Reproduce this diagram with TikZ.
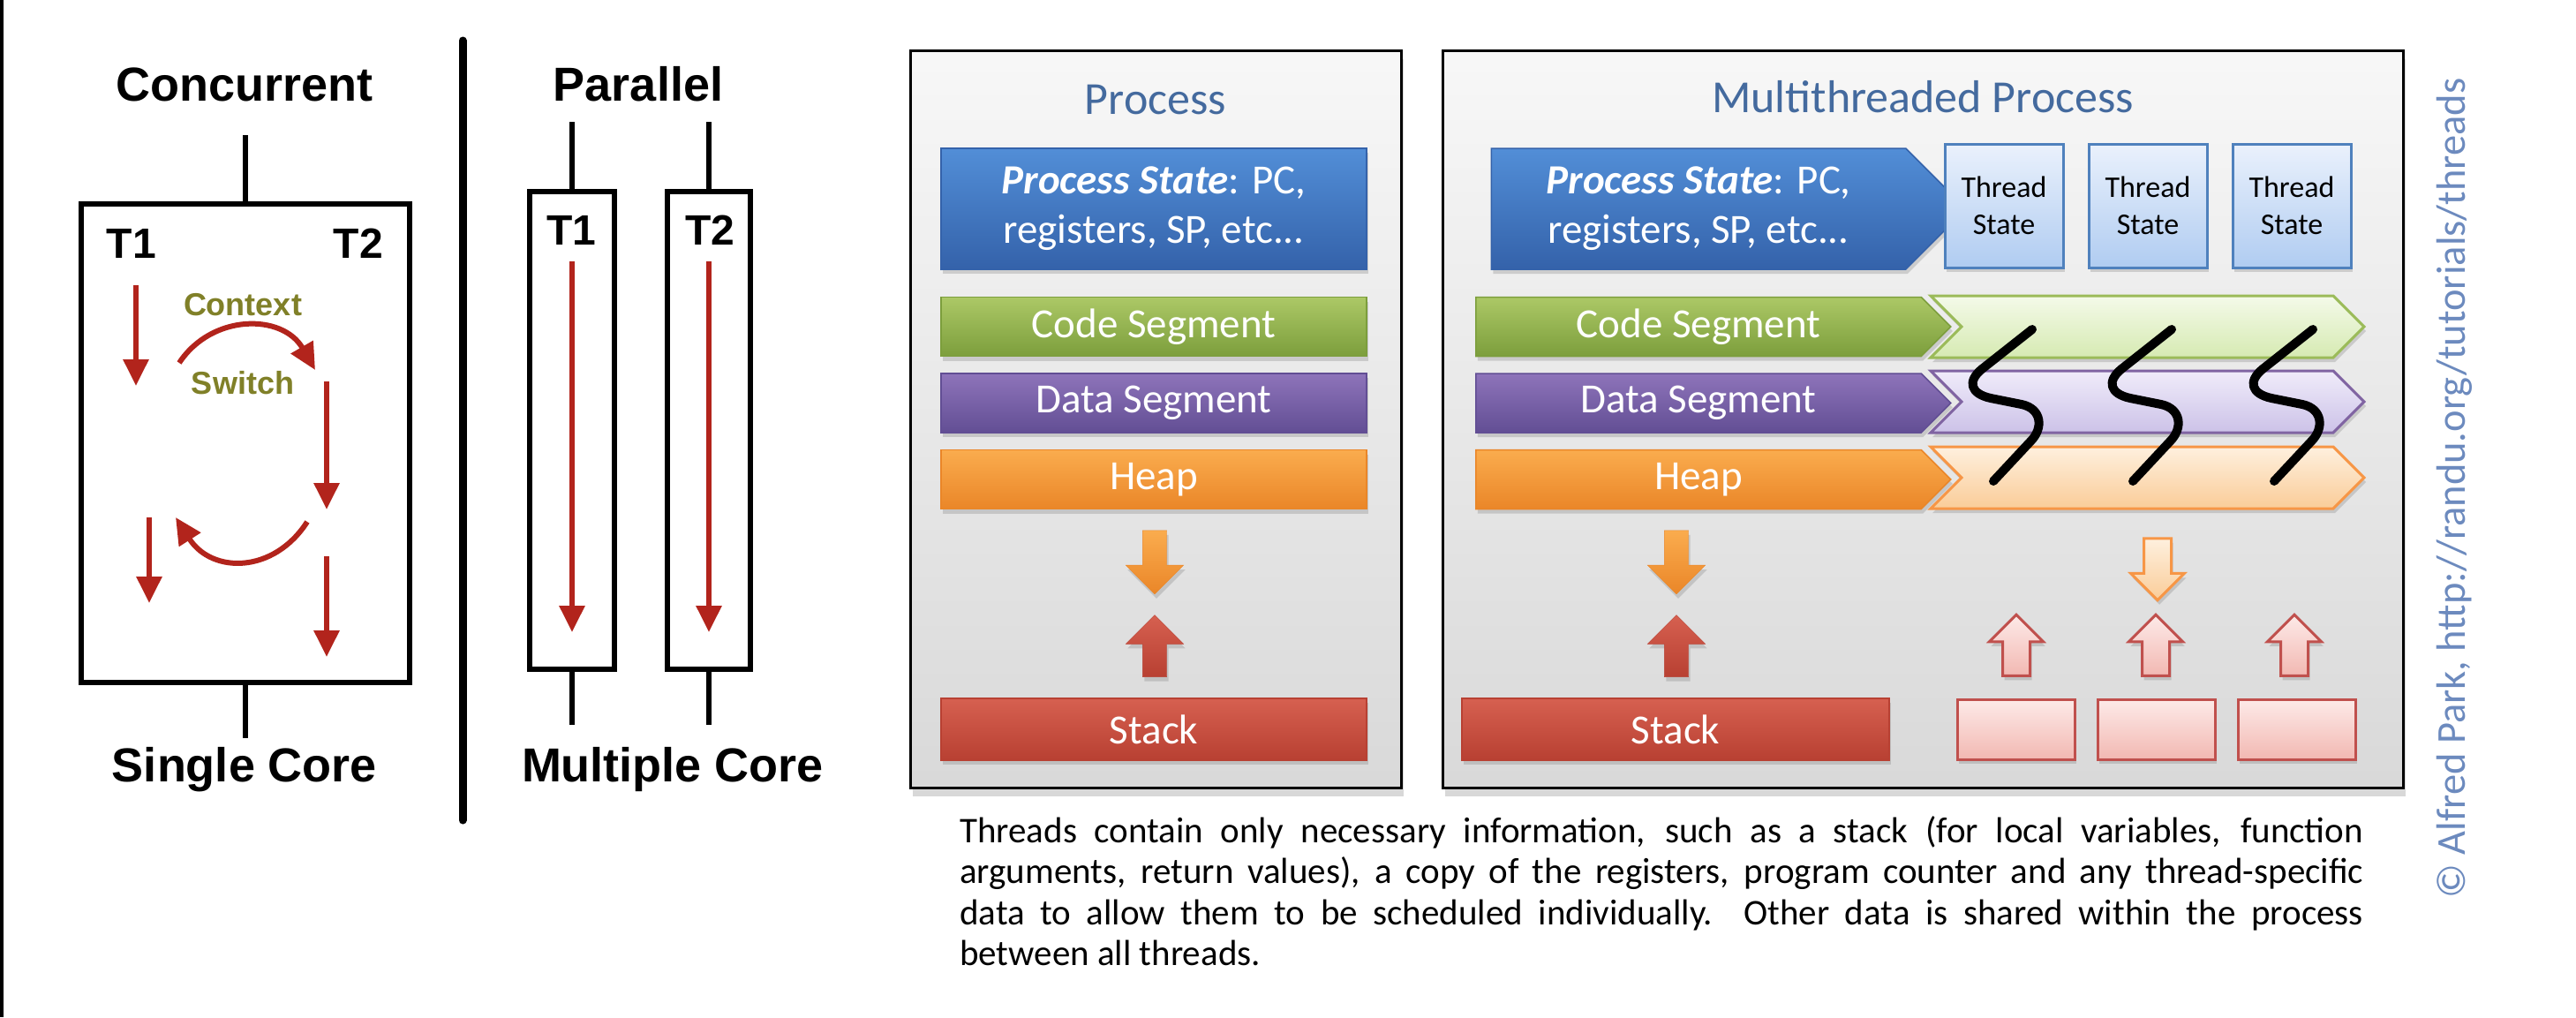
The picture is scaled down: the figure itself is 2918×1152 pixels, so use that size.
\documentclass[tikz,border=0pt]{standalone}
\usepackage{fontspec}
\setmainfont{Carlito}
\newfontfamily\arialfont{Liberation Sans}
\usetikzlibrary{positioning,shapes.arrows,shapes.symbols,shadows,arrows.meta}

\definecolor{threadred}{RGB}{178,36,28}
\definecolor{switchtext}{RGB}{128,128,40}
\definecolor{titleblue}{RGB}{68,106,158}
\definecolor{creditblue}{RGB}{108,138,190}
\definecolor{blueA}{RGB}{82,142,215}
\definecolor{blueB}{RGB}{52,98,170}
\definecolor{greenA}{RGB}{172,200,102}
\definecolor{greenB}{RGB}{124,158,60}
\definecolor{purpleA}{RGB}{142,116,186}
\definecolor{purpleB}{RGB}{98,78,148}
\definecolor{orangeA}{RGB}{250,172,78}
\definecolor{orangeB}{RGB}{234,134,40}
\definecolor{redA}{RGB}{214,96,80}
\definecolor{redB}{RGB}{184,64,50}
\definecolor{greenL}{RGB}{244,250,233}
\definecolor{greenM}{RGB}{214,234,178}
\definecolor{greenE}{RGB}{155,187,89}
\definecolor{purpleL}{RGB}{240,236,250}
\definecolor{purpleM}{RGB}{204,194,232}
\definecolor{purpleE}{RGB}{128,100,162}
\definecolor{orangeL}{RGB}{254,240,222}
\definecolor{orangeM}{RGB}{250,204,152}
\definecolor{orangeE}{RGB}{247,150,70}
\definecolor{redL}{RGB}{253,234,232}
\definecolor{redM}{RGB}{242,184,178}
\definecolor{redE}{RGB}{192,80,77}
\definecolor{tsL}{RGB}{234,241,252}
\definecolor{tsM}{RGB}{176,204,241}
\definecolor{tsE}{RGB}{79,129,189}

\begin{document}
\begin{tikzpicture}[x=1pt, y=-1pt, node distance=18pt,
    every node/.style={inner sep=0pt},
    heading/.style={font=\arialfont\bfseries\fontsize{54}{60}\selectfont, anchor=base},
    tname/.style={font=\arialfont\bfseries\fontsize{48}{54}\selectfont, anchor=base},
    ctxsw/.style={font=\arialfont\bfseries\fontsize{36}{40}\selectfont, text=switchtext, anchor=base},
    corebox/.style={draw, line width=6pt},
    stem/.style={line width=6pt},
    flow/.style={draw=threadred, line width=6pt, -{Triangle[length=30pt,width=28pt]}},
    panel/.style={draw, line width=3pt, top color=gray!6, bottom color=gray!30,
        drop shadow={opacity=.3, shadow xshift=3pt, shadow yshift=-9pt}},
    ptitle/.style={font=\fontsize{52}{58}\selectfont, text=titleblue, anchor=base},
    shade/.style={drop shadow={opacity=.3, shadow xshift=2pt, shadow yshift=-5pt}},
    seg/.style={shade, text=white, font=\fontsize{47}{56}\selectfont, align=center,
        minimum width=482pt, minimum height=67pt, line width=1.5pt},
    mseg/.style={seg, signal, signal to=east, minimum width=538pt},
    lseg/.style={shade, signal, signal to=east, signal from=west, minimum width=491pt,
        minimum height=70pt, line width=3pt},
    fblue/.style={top color=blueA, bottom color=blueB, draw=blueB},
    fgreen/.style={top color=greenA, bottom color=greenB, draw=greenB},
    fpurple/.style={top color=purpleA, bottom color=purpleB, draw=purpleB},
    forange/.style={top color=orangeA, bottom color=orangeB, draw=orangeB},
    fred/.style={top color=redA, bottom color=redB, draw=redB},
    tstate/.style={shade, draw=tsE, line width=3pt, top color=tsL, bottom color=tsM,
        minimum width=134pt, minimum height=140pt, align=center, font=\fontsize{34}{42}\selectfont},
    tstack/.style={shade, draw=redE, line width=3pt, top color=redL, bottom color=redM,
        minimum width=133pt, minimum height=68pt},
    blockdown/.style={shade, single arrow, shape border rotate=270, minimum height=72pt,
        inner sep=13.5pt, single arrow head extend=19pt},
    blockup/.style={blockdown, shape border rotate=90, minimum height=70pt},
    thinup/.style={shade, single arrow, shape border rotate=90, minimum height=69pt,
        inner sep=14pt, single arrow head extend=15pt, draw=redE, line width=3pt,
        top color=redL, bottom color=redM},
    squiggle/.style={line width=10pt, line cap=round, line join=round}
    ]

    \fill[white] (0,0) rectangle (2918,1152);
    \useasboundingbox (0,0) rectangle (2918,1152);
    \draw[line width=4pt] (2,0) -- (2,1152);

    % concurrent, one core
    \node[heading] (conc) at (277,114) {Concurrent};
    \node[corebox, minimum width=372pt, minimum height=542pt] (single) at (278,502) {};
    \coordinate (stop) at (278,153);
    \coordinate (sbot) at (278,836);
    \draw[stem] (stop) -- (single.north);
    \draw[stem] (single.south) -- (sbot);
    \node[heading] (singlecore) at (277,885) {Single Core};
    \node[tname] (st1) at (149,292) {T1};
    \node[tname] (st2) at (406,292) {T2};
    \node[ctxsw] (ctx) at (275,357) {Context};
    \node[ctxsw] (sw) at (275,446) {Switch};
    \draw[flow] (154,323) -- (154,437);
    \draw[flow] (203,411) .. controls (240,355) and (320,355) .. (357,419);
    \draw[flow] (370,432) -- (370,577);
    \draw[flow] (348,591) .. controls (310,650) and (240,650) .. (199,586);
    \draw[flow] (169,586) -- (169,683);
    \draw[flow] (370,630) -- (370,744);

    \draw[line width=9pt, line cap=round] (524,46) -- (524,929);

    % parallel, two cores
    \node[heading] (para) at (723,114) {Parallel};
    \node[corebox, minimum width=96pt, minimum height=541pt] (core1) at (648,487.5) {};
    \node[corebox, minimum width=94pt, minimum height=541pt] (core2) at (803,487.5) {};
    \coordinate (c1top) at (648,138);
    \coordinate (c1bot) at (648,821);
    \coordinate (c2top) at (803,138);
    \coordinate (c2bot) at (803,821);
    \draw[stem] (c1top) -- (core1.north);
    \draw[stem] (core1.south) -- (c1bot);
    \draw[stem] (c2top) -- (core2.north);
    \draw[stem] (core2.south) -- (c2bot);
    \node[tname] (pt1) at (647,277) {T1};
    \node[tname] (pt2) at (804,277) {T2};
    \draw[flow] (648,296) -- (648,716);
    \draw[flow] (803,296) -- (803,716);
    \node[heading] (multicore) at (762,885) {Multiple Core};

    % single threaded process
    \node[panel, minimum width=556pt, minimum height=835pt] (procpanel) at (1309,475) {};
    \node[ptitle] (proctitle) at (1309,129) {Process};
    \node[seg, fblue, minimum height=137pt] (pstate) at (1307,236.5) {\textbf{\textit{Process State}}: PC,\\registers, SP, etc...};
    \node[seg, fgreen] (pcode) [below=30pt of pstate] {Code Segment};
    \node[seg, fpurple] (pdata) [below=of pcode] {Data Segment};
    \node[seg, forange] (pheap) [below=of pdata] {Heap};
    \node[blockdown, forange] (pdown) at (1308,630) {};
    \node[blockup, fred] (pup) at (1308,738.5) {};
    \node[seg, fred, minimum height=70pt] (pstack) at (1307,826) {Stack};

    % multithreaded process
    \node[panel, minimum width=1088pt, minimum height=835pt] (mtpanel) at (2178,475) {};
    \node[ptitle] (mttitle) at (2178,127) {Multithreaded Process};
    \node[mseg, fblue, minimum height=137pt] (mstate) at (1924,236.5) {\textbf{\textit{Process State}}: PC,\\registers, SP, etc...};
    \node[mseg, fgreen] (mcode) [below=30pt of mstate] {Code Segment};
    \node[mseg, fpurple] (mdata) [below=of mcode] {Data Segment};
    \node[mseg, forange] (mheap) [below=of mdata] {Heap};
    \node[blockdown, forange] (mdown) at (1899,630) {};
    \node[blockup, fred] (mup) at (1899,738.5) {};
    \node[seg, fred, minimum width=484pt, minimum height=70pt] (mstack) at (1898,826) {Stack};

    \node[tstate] (ts1) at (2270,233) {Thread\\State};
    \node[tstate] (ts2) [right=26pt of ts1] {Thread\\State};
    \node[tstate] (ts3) [right=26pt of ts2] {Thread\\State};

    \node[lseg, draw=greenE, top color=greenL, bottom color=greenM] (tcode) at (2432.5,370) {};
    \node[lseg, draw=purpleE, top color=purpleL, bottom color=purpleM] (tdata) at (2432.5,455) {};
    \node[lseg, draw=orangeE, top color=orangeL, bottom color=orangeM] (theap) at (2432.5,541) {};

    \draw[squiggle] (2302,373) -- (2245,418) .. controls (2228,432) and (2232,446) .. (2255,451)
        -- (2290,458) .. controls (2313,463) and (2315,485) .. (2300,500) -- (2258,545);
    \draw[squiggle] (2460,373) -- (2403,418) .. controls (2386,432) and (2390,446) .. (2413,451)
        -- (2448,458) .. controls (2471,463) and (2473,485) .. (2458,500) -- (2416,545);
    \draw[squiggle] (2620,373) -- (2563,418) .. controls (2546,432) and (2550,446) .. (2573,451)
        -- (2608,458) .. controls (2631,463) and (2633,485) .. (2618,500) -- (2576,545);

    \node[thinup, shape border rotate=270, draw=orangeE, top color=orangeL, bottom color=orangeM, minimum height=70pt] (tdown) at (2444,637) {};
    \node[thinup] (tup1) at (2284,738.5) {};
    \node[thinup] (tup2) at (2442,738.5) {};
    \node[thinup] (tup3) at (2599,738.5) {};
    \node[tstack] (tstk1) at (2283.5,826) {};
    \node[tstack] (tstk2) [right=23pt of tstk1] {};
    \node[tstack] (tstk3) [right=23pt of tstk2] {};

    % caption and credit
    \node[anchor=north west, text width=1590pt, align=justify, font=\fontsize{41}{46.5}\selectfont] (caption) at (1087,924)
        {\hyphenpenalty=10000 Threads contain only necessary information, such as a stack (for local variables, function\linebreak
        arguments, return values), a copy of the registers, program counter and any thread-specific\linebreak
        data to allow them to be scheduled individually.\ \ Other data is shared within the process\linebreak
        between all threads.};
    \node[rotate=90, text=creditblue, font=\fontsize{46.5}{52}\selectfont] (credit) at (2780,553)
        {\textcopyright\ Alfred Park, http://randu.org/tutorials/threads};

\end{tikzpicture}
\end{document}
